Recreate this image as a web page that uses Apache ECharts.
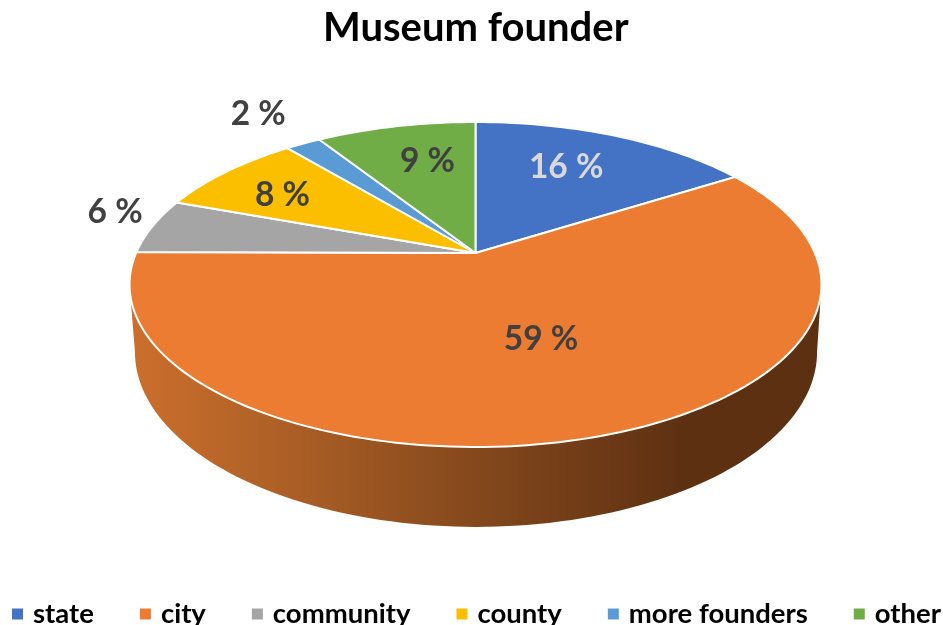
<!DOCTYPE html>
<html>
<head>
<meta charset="utf-8">
<title>Museum founder</title>
<script src="https://cdn.jsdelivr.net/npm/echarts@6/dist/echarts.min.js"></script>
<style>
  html, body { margin: 0; padding: 0; background: #fff; }
  #chart { width: 943px; height: 625px; }
</style>
</head>
<body>
<div id="chart"></div>
<script>
// values, the labels round them
var categories = ['state', 'city', 'community', 'county', 'more founders', 'other'];
var shares = [16, 59.1, 5.5, 8.4, 2, 9];

var colors = ['#4472c4', '#eb7c31', '#a5a5a5', '#fcbf00', '#5b9bd5', '#70ad47'];
var labelColors = ['#d9d9d9', '#404040', '#404040', '#404040', '#404040', '#404040'];
// where the label sits on the disc: radius fraction, degrees off the slice middle
var labelRadius = [0.69, 0.525, 1.155, 0.733, 1.33, 0.691];
var labelShift = [-3.1, -3.4, 3.9, -2, 0.4, 2.8];

var FONT = 'Lato, Carlito, sans-serif';
// the tilted disc is a projected circle, k gives the perspective
var K = 0.1938;
var topDisc = { x: 475.5, y: 253, w: 339.4, h: 156.4 };
var baseDisc = { x: 476, y: 318, w: 334.6, h: 168.4 };

function project(disc, deg, r) {
  var a = deg * Math.PI / 180;
  var s = Math.sin(a) * r, c = Math.cos(a) * r;
  var d = 1 + K * c;
  return [disc.x + disc.w * s / d, disc.y - disc.h * c / d];
}

function arc(disc, from, to) {
  var pts = [];
  var n = Math.max(2, Math.ceil(Math.abs(to - from) / 1.5));
  for (var i = 0; i <= n; i++) {
    pts.push(project(disc, from + (to - from) * i / n, 1));
  }
  return pts;
}

// front part of the disc, between the two points where the outline turns
var frontFrom = Math.acos(-K) * 180 / Math.PI;
var frontTo = 360 - frontFrom;

var wallFill = {
  type: 'linear', global: true, x: 130, y: 0, x2: 822, y2: 0,
  colorStops: [
    { offset: 0, color: '#cc6f2d' },
    { offset: 0.22, color: '#ad6026' },
    { offset: 0.5, color: '#84481c' },
    { offset: 0.8, color: '#5e3012' },
    { offset: 1, color: '#5e3012' }
  ]
};

function renderSlice(params, api) {
  var idx = params.seriesIndex;
  var start = api.value(0) * 3.6;
  var end = start + api.value(1) * 3.6;
  var mid = (start + end) / 2 + labelShift[idx];
  var children = [];

  var wFrom = Math.max(start, frontFrom), wTo = Math.min(end, frontTo);
  if (wTo > wFrom) {
    children.push({
      type: 'polygon',
      shape: { points: arc(topDisc, wFrom, wTo).concat(arc(baseDisc, wTo, wFrom)) },
      style: { fill: wallFill }
    });
  }

  children.push({
    type: 'polygon',
    shape: { points: [project(topDisc, 0, 0)].concat(arc(topDisc, start, end)) },
    style: { fill: api.visual('color'), stroke: '#fff', lineWidth: 2, lineJoin: 'round' }
  });

  var p = project(topDisc, mid, labelRadius[idx]);
  children.push({
    type: 'text',
    x: p[0],
    y: p[1] + 1,
    style: {
      text: Math.round(api.value(1)) + ' %',
      font: 'bold 33.5px ' + FONT,
      fill: labelColors[idx],
      align: 'center',
      verticalAlign: 'middle'
    }
  });
  return { type: 'group', children: children };
}

var series = [];
var total = 0;
for (var i = 0; i < categories.length; i++) {
  series.push({
    name: categories[i],
    type: 'custom',
    coordinateSystem: 'none',
    renderItem: renderSlice,
    itemStyle: { color: colors[i] },
    data: [[total, shares[i]]]
  });
  total += shares[i];
}

var myChart = echarts.init(document.getElementById('chart'));
var option = {
  animation: false,
  backgroundColor: '#fff',
  title: {
    text: 'Museum founder',
    left: 318,
    top: 3,
    textStyle: { color: '#000', fontFamily: FONT, fontWeight: 'bold', fontSize: 40 }
  },
  legend: {
    data: categories,
    left: 7,
    top: 595,
    width: 936,
    padding: [5, 0, 5, 5],
    icon: 'rect',
    itemWidth: 11,
    itemHeight: 11,
    itemGap: 46,
    textStyle: { color: '#000', fontFamily: FONT, fontWeight: 'bold', fontSize: 27.5, padding: [0, 0, 0, 5] }
  },
  series: series
};
myChart.setOption(option);
</script>
</body>
</html>
